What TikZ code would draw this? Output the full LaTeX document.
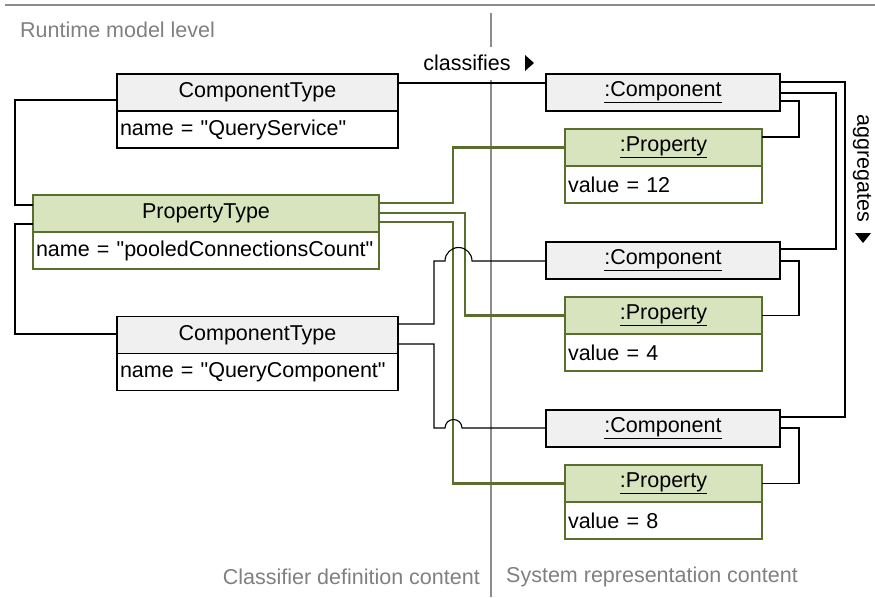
\documentclass[tikz,border=0pt]{standalone}
\usepackage{fontspec}
\setmainfont{Liberation Sans}
\usetikzlibrary{positioning}
\definecolor{hdgray}{HTML}{F0F0F0}
\definecolor{propfill}{HTML}{D7E4BD}
\definecolor{propline}{HTML}{5A6F2E}
\definecolor{sepgray}{HTML}{8C8C8C}
\definecolor{lblgray}{HTML}{808080}
\newcommand{\qd}{\textquotedbl}
\tikzset{typebox/.style={draw, line width=1.8pt, fill=hdgray, minimum height=37pt, inner sep=0pt, outer sep=0pt}}
\tikzset{propbox/.style={draw=propline, line width=2.4pt, fill=propfill, minimum height=37pt, inner sep=0pt, outer sep=0pt}}
\tikzset{attr/.style={draw, line width=1.8pt, fill=white, minimum height=37pt, inner xsep=3pt, inner ysep=0pt, outer sep=0pt, align=left}}
\tikzset{pattr/.style={attr, draw=propline, line width=2.4pt}}
\tikzset{conn/.style={line width=1.1pt}}
\tikzset{pconn/.style={draw=propline, line width=2.2pt}}
\tikzset{note/.style={text=lblgray, inner sep=0pt}}

\begin{document}
\begin{tikzpicture}[x=1pt, y=-1pt, font=\fontsize{21.5}{25}\selectfont]
      \useasboundingbox (0,0) rectangle (875,597);

      \draw[sepgray, line width=2pt] (5,5) -- (875,5);
      \draw[sepgray, line width=1.5pt] (491,13) -- (491,597);

      \node [note, anchor=west] (lvl) at (20,30) {Runtime model level};
      \node [note, anchor=east] (cdc) at (480,577) {Classifier definition content};
      \node [note, anchor=west] (src) at (506,577) {System representation content};

      \node [fill=white, inner sep=0pt, minimum height=33pt] (cls) at (467,63) {classifies};
      \fill (525,55) -- (534,63) -- (525,71) -- cycle;
      \node [rotate=-90, inner sep=0pt] (agg) at (862,168) {aggregates};
      \fill (855,233) -- (871,233) -- (863,243) -- cycle;

      \node [typebox, minimum width=281pt] (ct1) at (257.5,92.5) {ComponentType};
      \node [attr, text width=275pt, below=0pt of ct1] (ct1a) {name = \qd QueryService\qd};

      \node [propbox, minimum width=346pt] (pt) at (206,213.5) {PropertyType};
      \node [pattr, text width=340pt, below=0pt of pt] (pta) {name = \qd pooledConnectionsCount\qd};

      \node [typebox, minimum width=281pt] (ct2) at (257.5,335) {ComponentType};
      \node [attr, text width=275pt, below=0pt of ct2] (ct2a) {name = \qd QueryComponent\qd};

      \node [typebox, minimum width=234pt] (c1) at (663,92.5) {\underline{:Component}};
      \node [propbox, minimum width=197pt] (p1) at (663.5,147.5) {\underline{:Property}};
      \node [pattr, text width=191pt, below=0pt of p1] (p1a) {value = 12};

      \node [typebox, minimum width=234pt] (c2) at (663,260.5) {\underline{:Component}};
      \node [propbox, minimum width=197pt] (p2) at (663.5,315.5) {\underline{:Property}};
      \node [pattr, text width=191pt, below=0pt of p2] (p2a) {value = 4};

      \node [typebox, minimum width=234pt] (c3) at (663,428.5) {\underline{:Component}};
      \node [propbox, minimum width=197pt] (p3) at (663.5,483.5) {\underline{:Property}};
      \node [pattr, text width=191pt, below=0pt of p3] (p3a) {value = 8};

      \draw[pconn] (pt.east |- 0,203) -- (453,203) |- (p1.west);
      \draw[pconn] (pt.east |- 0,213) -- (465,213) |- (p2.west);
      \draw[pconn] (pt.east |- 0,222) -- (453,222) |- (p3.west);

      \draw[conn] (ct1.east |- 0,83) -- (c1.west |- 0,83);
      \draw[conn] (ct1.west |- 0,100) -- (15,100) |- (pt.west |- 0,205);
      \draw[conn] (pt.west |- 0,224) -- (15,224) |- (ct2.west |- 0,334);
      \draw[conn] (ct2.east |- 0,324) -- (434,324) -- (434,261) -- (445,261)
        arc[start angle=180, end angle=0, radius=13.5pt] -- (c2.west |- 0,261);
      \draw[conn] (ct2.east |- 0,344) -- (434,344) -- (434,428) -- (445,428)
        arc[start angle=180, end angle=0, radius=8.5pt] -- (c3.west |- 0,428);

      \draw[conn] (c1.east |- 0,82) -- (845,82) |- (c3.east |- 0,417);
      \draw[conn] (c1.east |- 0,93) -- (836,93) |- (c2.east |- 0,249);
      \draw[conn] (c1.east |- 0,101) -- (799,101) |- (p1.east |- 0,137);
      \draw[conn] (c2.east |- 0,261) -- (799,261) |- (p2.east);
      \draw[conn] (c3.east |- 0,428) -- (799,428) |- (p3.east);
    \end{tikzpicture}
\end{document}
